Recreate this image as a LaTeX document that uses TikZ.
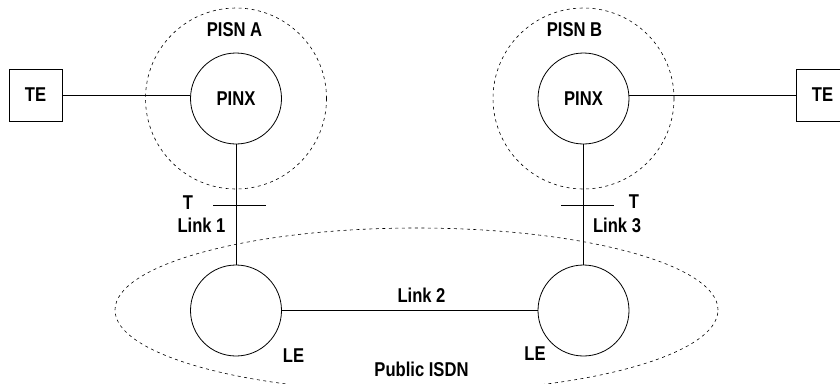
\documentclass[tikz,border=0pt]{standalone}
\usepackage{fontspec}
\setmainfont{Liberation Sans}[FakeStretch=0.83]
\usetikzlibrary{shapes.geometric}

\begin{document}
\begin{tikzpicture}[x=1pt, y=-1pt, line width=0.8pt,
    lbl/.style={font=\bfseries\fontsize{20}{22}\selectfont, inner sep=0pt},
    tebox/.style={draw, lbl, minimum width=53, minimum height=52},
    exch/.style={draw, circle, lbl, minimum size=91},
    netarea/.style={draw, dashed, dash pattern=on 3pt off 3.5pt, line width=0.6pt, inner sep=0pt}]
        \useasboundingbox (0,0) rectangle (840,383);

        % networks
        \node[netarea, circle, minimum size=181] at (236,98.5) (pisnA) {};
        \node[netarea, circle, minimum size=181] at (583.5,98.5) (pisnB) {};
        \node[netarea, ellipse, minimum width=603, minimum height=164] at (416.5,310) (isdn) {};

        % terminals and exchanges
        \node[tebox] at (35.5,95) (teA) {TE};
        \node[tebox] at (822.5,95) (teB) {TE};
        \node[exch] at (236,98.5) (pinxA) {PINX};
        \node[exch] at (583.5,98.5) (pinxB) {PINX};
        \node[exch] at (236,310.5) (leA) {};
        \node[exch] at (583.5,310.5) (leB) {};

        % links
        \draw (teA.east) -- (teA.east -| pinxA.west);
        \draw (pinxB.east |- teB.west) -- (teB.west);
        \draw (pinxA) -- (leA);
        \draw (pinxB) -- (leB);
        \draw (leA) -- (leB);

        % T reference points
        \coordinate (tA) at (236,205);
        \coordinate (tB) at (583.5,205);
        \draw ([xshift=-23pt]tA) -- ([xshift=30pt]tA);
        \draw ([xshift=-22.5pt]tB) -- ([xshift=30.5pt]tB);

        % labels
        \node[lbl] at (234.5,30) (pisnAlbl) {PISN A};
        \node[lbl] at (574.5,30) (pisnBlbl) {PISN B};
        \node[lbl] at (188,202.5) (tAlbl) {T};
        \node[lbl] at (201.5,225.5) (link1) {Link 1};
        \node[lbl] at (634,202) (tBlbl) {T};
        \node[lbl] at (617,225) (link3) {Link 3};
        \node[lbl] at (421.5,295) (link2) {Link 2};
        \node[lbl] at (293.5,355.5) (leAlbl) {LE};
        \node[lbl] at (535,353.5) (leBlbl) {LE};
        \node[lbl] at (421.5,369.5) (isdnlbl) {Public ISDN};
    \end{tikzpicture}
\end{document}
